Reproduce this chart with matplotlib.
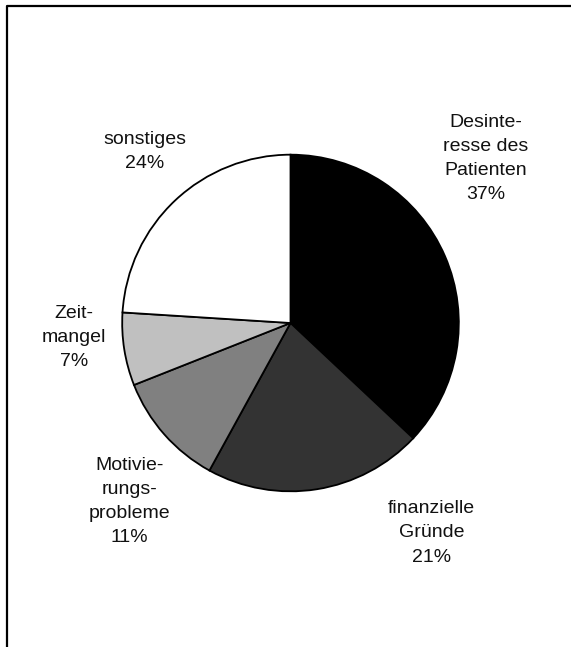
import matplotlib
matplotlib.use("Agg")
import matplotlib.pyplot as plt
from matplotlib.lines import Line2D

plt.rcParams['font.family'] = ['Liberation Sans', 'DejaVu Sans']

# Gründe (Anteile in %)
labels = ['Desinte-\nresse des\nPatienten', 'finanzielle\nGründe',
          'Motivie-\nrungs-\nprobleme', 'Zeit-\nmangel', 'sonstiges']
values = [37, 21, 11, 7, 24]
colors = ['#000000', '#333333', '#808080', '#c0c0c0', '#ffffff']

# label positions relative to pie (radius = 1)
label_pos = [(1.162, 0.976), (0.838, -1.247), (-0.956, -1.059),
             (-1.285, -0.088), (-0.866, 1.018)]

W, H = 571, 647
fig = plt.figure(figsize=(W / 100, H / 100), dpi=100)
fig.patch.set_facecolor('white')

cx, cy, r = 290.5, 323, 170
ax = fig.add_axes([(cx - r) / W, (H - cy - r) / H, 2 * r / W, 2 * r / H])
ax.pie(values, colors=colors, startangle=90, counterclock=False,
       radius=1, wedgeprops={'edgecolor': 'black', 'linewidth': 1.3})
ax.set_xlim(-1.01, 1.01)
ax.set_ylim(-1.01, 1.01)
ax.axis('off')

for lab, val, (x, y) in zip(labels, values, label_pos):
    ax.text(x, y, f"{lab}\n{val}%", ha='center', va='center', fontsize=14,
            linespacing=1.55, color='#111111', clip_on=False)

# frame (only top and left edge visible)
fig.add_artist(Line2D([7 / W, 7 / W, 1], [0, 1 - 6 / H, 1 - 6 / H],
                      transform=fig.transFigure, color='black', linewidth=1.6))

fig.savefig('out.png', dpi=100)
